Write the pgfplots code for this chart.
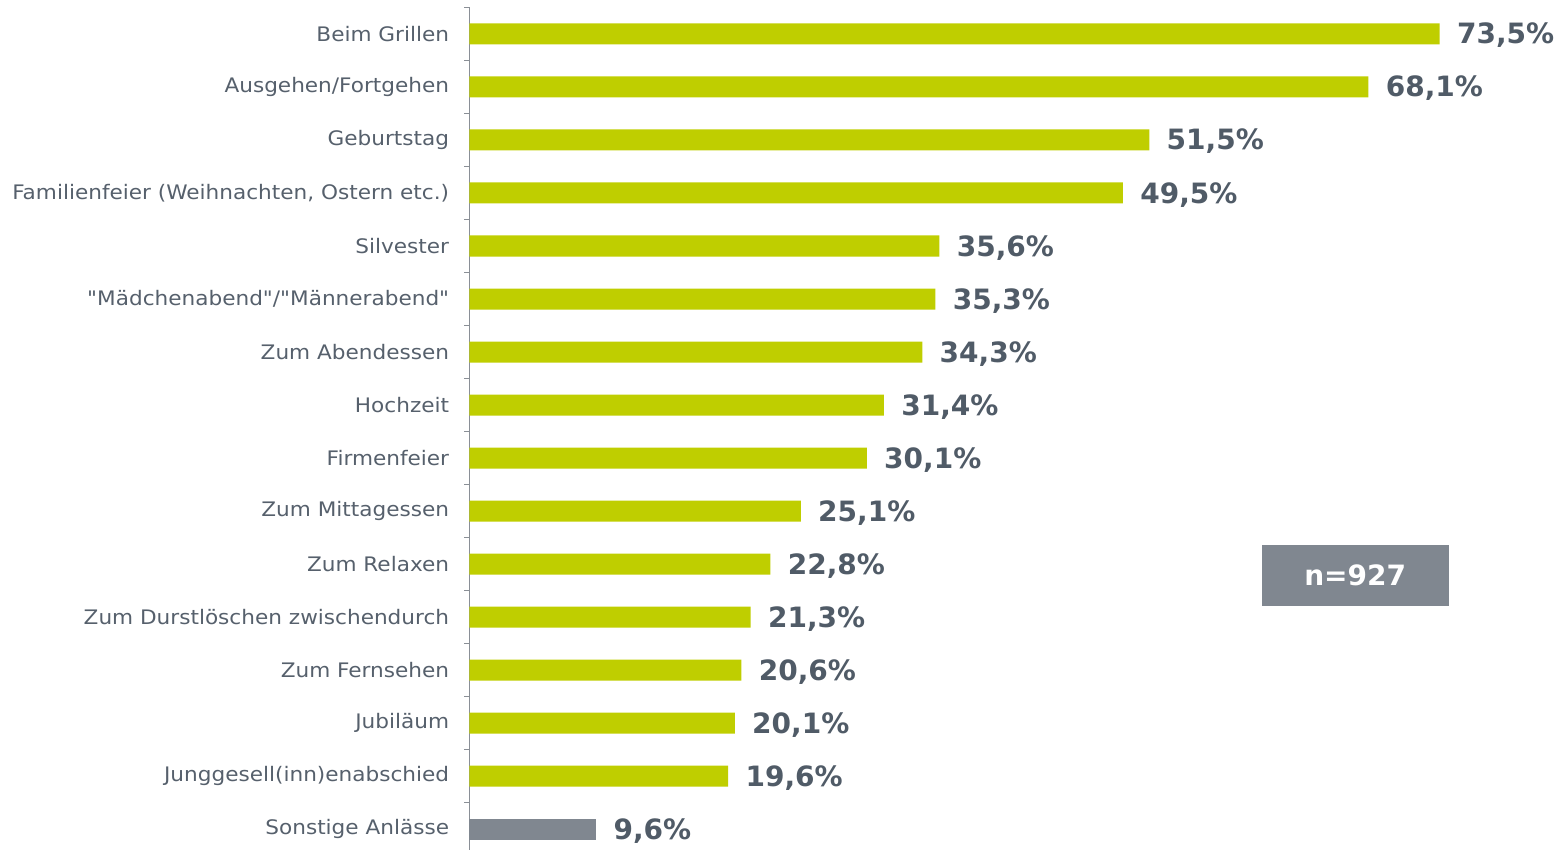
\documentclass[border=0pt]{standalone}
\usepackage{fontspec}
\setmainfont{DejaVu Sans}
\newfontfamily\catfont{DejaVu Sans}[FakeStretch=1.08]
\usepackage{pgfplots}
\pgfplotsset{compat=1.18}
\definecolor{barGreen}{RGB}{191,206,0}
\definecolor{barGray}{RGB}{128,135,144}
\definecolor{valText}{RGB}{80,91,103}
\definecolor{catText}{RGB}{86,96,108}
\definecolor{axGray}{RGB}{138,143,150}
\begin{document}
\begin{tikzpicture}
\begin{axis}[
  scale only axis,
  width=528pt, height=421.35pt,
  xmin=0, xmax=80,
  ymin=-0.5, ymax=15.4,
  y dir=reverse,
  xbar, bar width=10.5pt, bar shift=0pt,
  axis x line=none,
  axis y line*=left,
  y axis line style={draw=axGray, line width=0.75pt},
  ytick={0,...,15},
  yticklabels={Beim Grillen, Ausgehen/Fortgehen, Geburtstag, {Familienfeier (Weihnachten, Ostern etc.)}, Silvester, {\char34 Mädchenabend\char34/\char34 Männerabend\char34}, Zum Abendessen, Hochzeit, Firmenfeier, Zum Mittagessen, Zum Relaxen, Zum Durstlöschen zwischendurch, Zum Fernsehen, Jubiläum, Junggesell(inn)enabschied, Sonstige Anlässe},
  minor ytick={-0.5,0.5,...,14.5},
  major tick length=0pt,
  minor tick length=2.5pt,
  tick align=outside,
  tick style={draw=axGray, line width=0.6pt},
  yticklabel style={font=\catfont\fontsize{10}{11}\selectfont, text=catText, anchor=east, inner sep=0pt, xshift=-10pt},
  nodes near coords={\pgfmathprintnumber[fixed,fixed zerofill,precision=1,use comma]{\pgfplotspointmeta}\%},
  point meta=x,
  every node near coord/.append style={font=\bfseries\fontsize{14}{15}\selectfont, text=valText, anchor=west, inner sep=0pt, xshift=8.5pt, yshift=-0.8pt, /pgf/number format/assume math mode=true},
  clip=false,
]
\addplot[fill=barGreen, draw=none] coordinates {
(73.5,0) (68.1,1) (51.5,2) (49.5,3) (35.6,4) (35.3,5) (34.3,6) (31.4,7)
(30.1,8) (25.1,9) (22.8,10) (21.3,11) (20.6,12) (20.1,13) (19.6,14)};
\addplot[fill=barGray, draw=none] coordinates {(9.6,15)};
\node[fill=barGray, minimum width=93.5pt, minimum height=30.5pt, inner sep=0pt, text=white, font=\bfseries\fontsize{14}{15}\selectfont] at (axis cs:67.1,10.22) {n=927};
\end{axis}
\pgfresetboundingbox
\path ([xshift=-234.75pt, yshift=3.75pt]current axis.north west) rectangle ([xshift=548.25pt, yshift=-421.25pt]current axis.north west);
\end{tikzpicture}
\end{document}
